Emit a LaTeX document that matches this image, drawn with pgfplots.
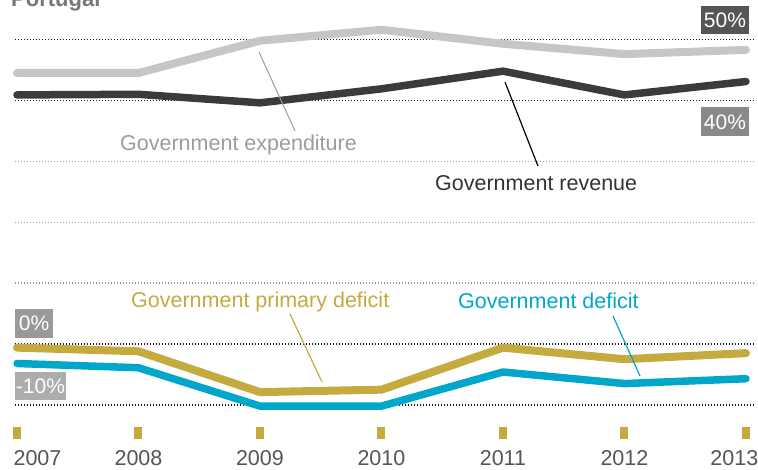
\documentclass[border=0pt]{standalone}
\usepackage{pgfplots}
\pgfplotsset{compat=1.18}
\usepackage{fontspec}
\setmainfont{Liberation Sans}
\definecolor{expcol}{HTML}{C6C6C6}
\definecolor{revcol}{HTML}{3B3B3B}
\definecolor{goldcol}{HTML}{C4AA3F}
\definecolor{bluecol}{HTML}{00A7CA}
\definecolor{exptext}{HTML}{9C9C9C}
\definecolor{revtext}{HTML}{333333}
\definecolor{yeartext}{HTML}{555555}
\definecolor{gridlight}{HTML}{9A9A9A}
\definecolor{griddark}{HTML}{111111}
\definecolor{boxa}{HTML}{555555}
\definecolor{boxb}{HTML}{898989}
\definecolor{boxc}{HTML}{999999}
\definecolor{boxd}{HTML}{ADADAD}
\definecolor{titlecol}{HTML}{777777}

\pgfplotstableread{
year exp rev prim def
2007 44.5 40.9 -0.6 -3.2
2008 44.5 41.0 -1.2 -3.9
2009 49.8 39.6 -7.9 -10.2
2010 51.6 41.9 -7.5 -10.2
2011 49.3 44.8 -0.6 -4.6
2012 47.6 40.9 -2.5 -6.5
2013 48.3 43.1 -1.5 -5.7
}\datatable

\begin{document}
\begin{tikzpicture}
\useasboundingbox (0pt,0pt) rectangle (758pt,-470pt);
\begin{axis}[
  at={(15pt,-439pt)}, anchor=south west,
  scale only axis, width=739pt, height=399.5pt,
  xmin=2006.9835, xmax=2013.066, ymin=-15.6, ymax=50,
  clip=false,
  axis line style={draw=none},
  ytick=\empty,
  xtick={2007,...,2013},
  xticklabels={\makebox[0pt]{\hspace*{41pt}2007},2008,2009,2010,2011,2012,\makebox[0pt]{\hspace*{-23pt}2013}},
  xtick pos=left,
  tick align=inside,
  major tick length=12pt,
  every tick/.append style={line width=8pt, goldcol},
  xticklabel style={font=\fontsize{21.5}{21.5}\selectfont, text=yeartext, anchor=base, inner sep=0pt, yshift=-26.5pt},
]
% grid lines
\foreach \v in {50,40,0,-10} {
  \edef\temp{\noexpand\draw[griddark, line width=1.5pt, dash pattern=on 1.4pt off 1.6pt] (axis cs:2006.9835,\v) -- (axis cs:2013.066,\v);}
  \temp
}
\foreach \v in {30,20,10} {
  \edef\temp{\noexpand\draw[gridlight, line width=1.2pt, dash pattern=on 1.2pt off 1.8pt] (axis cs:2006.9835,\v) -- (axis cs:2013.066,\v);}
  \temp
}
\addplot[expcol, line width=8pt, line cap=round, line join=round] table[x=year, y=exp] {\datatable};
\addplot[revcol, line width=7.5pt, line cap=round, line join=round] table[x=year, y=rev] {\datatable};
\addplot[goldcol, line width=8pt, line cap=round, line join=round] table[x=year, y=prim] {\datatable};
\addplot[bluecol, line width=7.5pt, line cap=round, line join=round] table[x=year, y=def] {\datatable};
\end{axis}
\begin{scope}[x=1pt, y=-1pt]
% leader lines
\draw[exptext, line width=1pt] (259,52) -- (295,131);
\draw[black, line width=1.2pt] (505,82) -- (538,166);
\draw[goldcol, line width=1.2pt] (290,314) -- (322,382);
\draw[bluecol, line width=1.2pt] (613,316) -- (640,376);
% labels
\node[anchor=base west, inner sep=0pt, text=exptext, font=\fontsize{21.5}{24}\selectfont] at (120,150.5) {Government expenditure};
\node[anchor=base west, inner sep=0pt, text=revtext, font=\fontsize{21.5}{24}\selectfont] at (435,191) {Government revenue};
\node[anchor=base west, inner sep=0pt, text=goldcol, font=\fontsize{21.5}{24}\selectfont] at (131,308) {Government primary deficit};
\node[anchor=base west, inner sep=0pt, text=bluecol, font=\fontsize{21.5}{24}\selectfont] at (458,309) {Government deficit};
% percent boxes
\node[fill=boxa, text=white, minimum width=48pt, minimum height=28pt, inner sep=0pt, font=\fontsize{21}{21}\selectfont] at (725,20) {50\%};
\node[fill=boxb, text=white, minimum width=48pt, minimum height=29pt, inner sep=0pt, font=\fontsize{21}{21}\selectfont] at (725,122) {40\%};
\node[fill=boxc, text=white, minimum width=38pt, minimum height=29pt, inner sep=0pt, font=\fontsize{21}{21}\selectfont] at (34,323.5) {0\%};
\node[fill=boxd, text=white, minimum width=51pt, minimum height=28pt, inner sep=0pt, font=\fontsize{21}{21}\selectfont] at (40.5,386) {-10\%};
% title (cut off at top)
\node[anchor=base west, inner sep=0pt, text=titlecol, font=\bfseries\fontsize{22}{24}\selectfont] at (11,7) {Portugal};
\end{scope}
\end{tikzpicture}
\end{document}
